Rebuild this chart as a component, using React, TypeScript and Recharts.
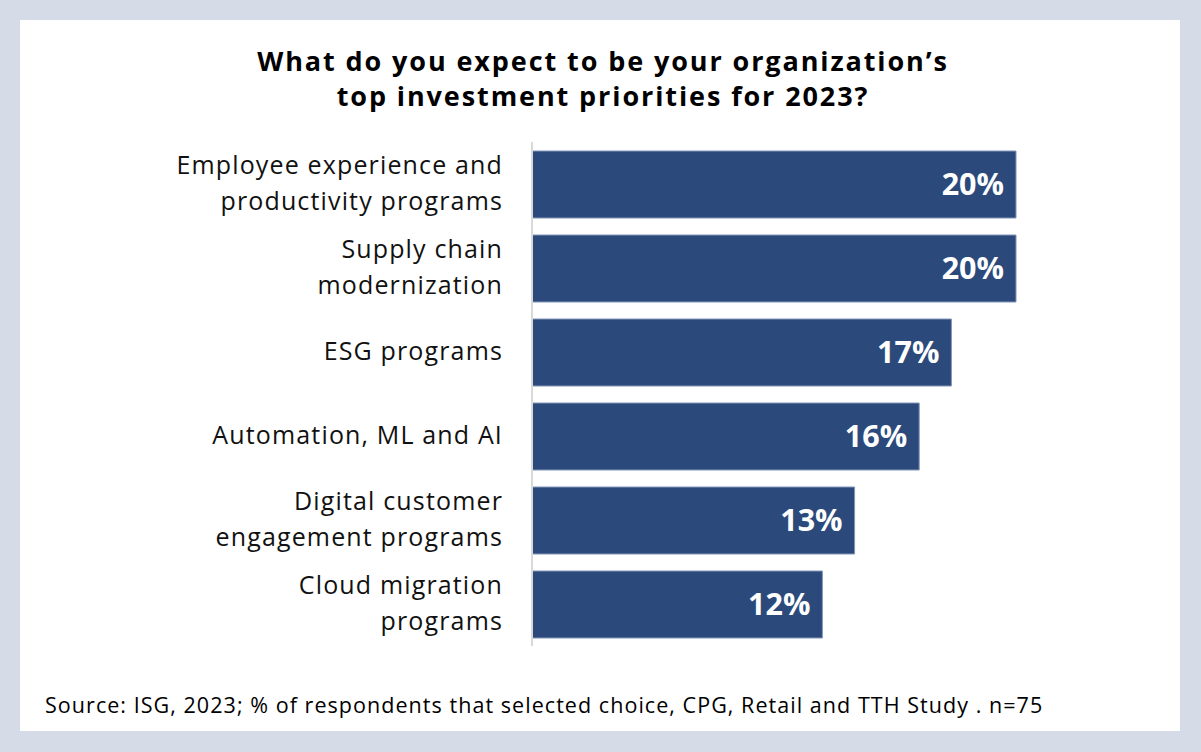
import { Bar, BarChart, LabelList, XAxis, YAxis } from "recharts"

// n=75, so the shares are counts out of 75
const categories = [
  "Employee experience and|productivity programs",
  "Supply chain|modernization",
  "ESG programs",
  "Automation, ML and AI",
  "Digital customer|engagement programs",
  "Cloud migration|programs",
]
const shares = [20, 20, 17.33, 16, 13.33, 12]
const titleLines = ["What do you expect to be your organization’s", "top investment priorities for 2023?"]
const sourceNote = "Source: ISG, 2023; % of respondents that selected choice, CPG, Retail and TTH Study . n=75"

const data = categories.map((name, i) => ({ name, value: shares[i] }))

const FONT = "'Open Sans', 'Noto Sans', sans-serif"

function CategoryTick({ x, y, payload }: any) {
  const lines: string[] = String(payload.value).split("|")
  const offsets = lines.length === 1 ? [8] : [-10.5, 25.5]
  const tx = x - 21
  return (
    <text x={tx} y={y} textAnchor="end" fill="#111" fontFamily={FONT} fontSize={25} letterSpacing={1.15}>
      {lines.map((line, i) => (
        <tspan key={i} x={tx} y={y + offsets[i]}>
          {line}
        </tspan>
      ))}
    </text>
  )
}

export default function App() {
  return (
    <div style={{ position: "absolute", left: 0, top: 0, width: 1201, height: 752, background: "#d5dbe7", fontFamily: FONT }}>
      <div style={{ position: "absolute", left: 20, top: 20, width: 1160, height: 711, background: "#fff" }} />
      <div
        style={{
          position: "absolute",
          left: 0,
          top: 43,
          width: 1206,
          textAlign: "center",
          fontWeight: 700,
          fontSize: 27,
          letterSpacing: 1.9,
          lineHeight: "35px",
          color: "#000",
        }}
      >
        {titleLines.map((t) => (
          <div key={t}>{t}</div>
        ))}
      </div>
      <div style={{ position: "absolute", left: 0, top: 0 }}>
        <BarChart
          width={1201}
          height={752}
          data={data}
          layout="vertical"
          margin={{ top: 142, right: 64, bottom: 106, left: 0 }}
        >
          <XAxis type="number" domain={[0, 25]} hide />
          <YAxis
            type="category"
            dataKey="name"
            width={532}
            tickLine={false}
            axisLine={{ stroke: "#d9d9d9", strokeWidth: 2 }}
            tick={<CategoryTick />}
            interval={0}
          />
          <Bar dataKey="value" fill="#2b4a7b" stroke="#8296b8" strokeWidth={1} barSize={67} isAnimationActive={false}>
            <LabelList
              dataKey="value"
              position="insideRight"
              offset={12}
              formatter={(v: any) => `${Math.round(Number(v))}%`}
              fill="#fff"
              fontFamily={FONT}
              fontWeight={700}
              fontSize={30.5}
            />
          </Bar>
        </BarChart>
      </div>
      <div
        style={{
          position: "absolute",
          left: 45,
          top: 690,
          fontSize: 21.5,
          letterSpacing: 1.05,
          lineHeight: "30px",
          color: "#000",
          whiteSpace: "nowrap",
        }}
      >
        {sourceNote}
      </div>
    </div>
  )
}
